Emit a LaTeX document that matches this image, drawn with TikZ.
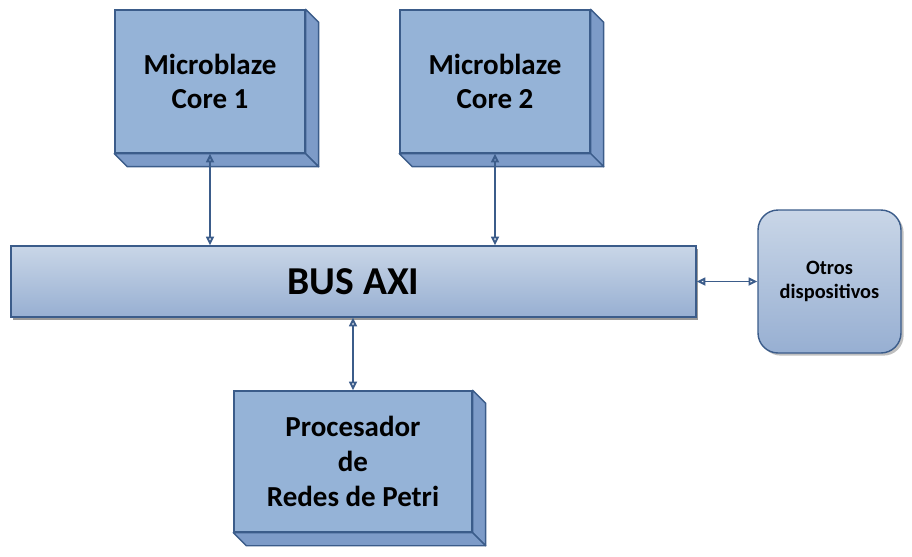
\documentclass[tikz,border=0pt]{standalone}
\usepackage{fontspec}
\setmainfont{Carlito}
\usetikzlibrary{arrows.meta}
\usetikzlibrary{calc,shadows}
\definecolor{caja}{HTML}{95B3D7}
\definecolor{lado}{HTML}{7D9BC8}
\definecolor{borde}{HTML}{3B5C8A}
\definecolor{arriba}{HTML}{C9D6E7}
\definecolor{abajo}{HTML}{97AFD2}
\tikzset{> = {Triangle[open,length=5pt,width=4.5pt]}}
\tikzset{
	bloque/.style={draw=borde, fill=caja, line width=.8pt, text=black, align=center, inner sep=0pt,
		font=\bfseries\fontsize{16.5}{19.8}\selectfont},
	cara/.style={fill=lado, draw=borde, line width=.8pt, line join=round},
	bus/.style={draw=borde, top color=arriba, bottom color=abajo, line width=.8pt, text=black, inner sep=0pt,
		font=\bfseries\fontsize{22.5}{27}\selectfont,
		drop shadow={shadow xshift=1pt, shadow yshift=-1.5pt, fill=black!40, opacity=1}},
	otro/.style={draw=borde, top color=arriba, bottom color=abajo, line width=.8pt, text=black, align=center,
		inner sep=0pt, rounded corners=.4cm, font=\bfseries\fontsize{11.6}{13.8}\selectfont,
		drop shadow={shadow xshift=1.5pt, shadow yshift=-1.5pt, fill=black!50, opacity=.5}},
	enlace/.style={<->, draw=borde, color=borde, line width=1.1pt}
}

\begin{document}
\begin{tikzpicture}[x=0.02cm, y=-0.02cm]
	\useasboundingbox (0,0) rectangle (912,556);
	% bloques con profundidad
	\node[bloque, minimum width=3.8cm, minimum height=2.86cm] (core1) at (210,81.5) {Microblaze\\Core 1};
	\node[bloque, minimum width=3.8cm, minimum height=2.86cm] (core2) at (495,81.5) {Microblaze\\Core 2};
	\node[bloque, minimum width=4.76cm, minimum height=2.82cm] (petri) at (353,461.5) {Procesador\\de\\Redes de Petri};
	\foreach \b in {core1,core2,petri}{
		\draw[cara] (\b.north east)--++(13,13)--($(\b.south east)+(13,13)$)--(\b.south east)--cycle;
		\draw[cara] (\b.south west)--++(13,13)--($(\b.south east)+(13,13)$)--(\b.south east)--cycle;
	}
	% bus y perifericos
	\node[bus, minimum width=13.7cm, minimum height=1.42cm] (axi) at (353.5,281.5) {BUS AXI};
	\node[otro, minimum width=2.86cm, minimum height=2.86cm] (otros) at (829.5,281.5) {Otros\\dispositivos};
	% conexiones
	\draw[enlace] (core1.south) -- (core1.south |- axi.north);
	\draw[enlace] (core2.south) -- (core2.south |- axi.north);
	\draw[enlace] (petri.north) -- (petri.north |- axi.south);
	\draw[enlace] (axi.east) -- (otros.west);
\end{tikzpicture}
\end{document}
